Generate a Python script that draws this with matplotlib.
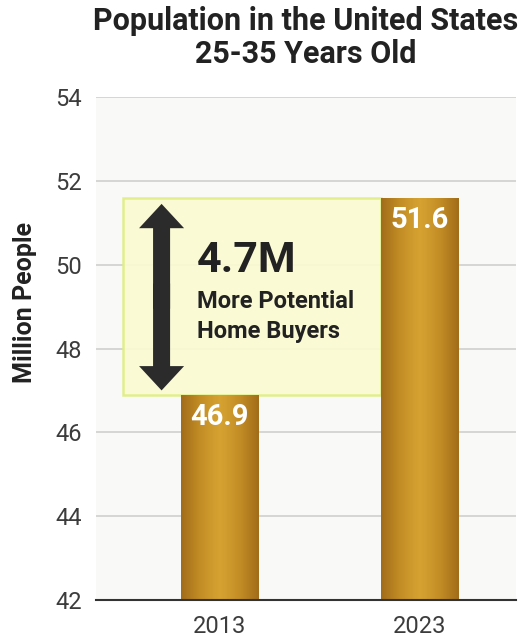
import numpy as np
import matplotlib.pyplot as plt
from matplotlib.colors import LinearSegmentedColormap
from matplotlib.patches import Rectangle

plt.rcParams['font.family'] = ['Roboto', 'DejaVu Sans']

years = ["2013", "2023"]
population = [46.9, 51.6]
y_ticks = [42, 44, 46, 48, 50, 52, 54]
diff_label = "4.7M"
diff_text = "More Potential\nHome Buyers"

fig = plt.figure(figsize=(5.32, 6.41), dpi=100)
ax = fig.add_axes([96 / 532, 41 / 641, 420 / 532, 503 / 641])
ax.set_facecolor('#f9f9f7')

x = np.arange(len(years))
bar_w = 0.385
bars = ax.bar(x, population, width=bar_w, color='#b8831f', zorder=3)

# horizontal gold gradient inside each bar
gold = LinearSegmentedColormap.from_list('gold', ['#a26d19', '#c48e26', '#d6a332', '#c48e26', '#a26d19'])
grad = np.linspace(0, 1, 100).reshape(1, -1)
for b in bars:
    im = ax.imshow(grad, cmap=gold, aspect='auto', zorder=3.5,
                   extent=[b.get_x(), b.get_x() + b.get_width(), 42, b.get_height()])
    im.set_clip_path(b)

for xi, v in zip(x, population):
    ax.text(xi, v - 0.2, f"{v}", ha='center', va='top', color='white',
            fontsize=21, fontweight='bold', zorder=5)

# highlight box between the two values
box_left = -0.4825
box_right = x[1] - bar_w / 2
ax.add_patch(Rectangle((box_left, population[0]), box_right - box_left,
                       population[1] - population[0], facecolor='#fbfbd2',
                       edgecolor='#e0ee84', lw=1.8, alpha=0.92, zorder=2.5))

# double-headed arrow (two halves overlapping in the middle)
ax_x = -0.29
mid = (population[0] + population[1]) / 2
top = population[1] - 0.15
bottom = population[0] + 0.1
for start, end in ((mid - 0.3, top), (mid + 0.3, bottom)):
    ax.arrow(ax_x, start, 0, end - start, width=0.085, head_width=0.225,
             head_length=0.58, length_includes_head=True, color='#2b2b2b',
             lw=0, zorder=4)

ax.text(-0.115, 50.1, diff_label, ha='left', va='center', fontsize=31,
        fontweight='bold', color='#222222', zorder=4)
ax.text(-0.115, 48.77, diff_text, ha='left', va='center', fontsize=17,
        fontweight='bold', color='#222222', linespacing=1.4, zorder=4)

ax.set_ylim(42, 54)
ax.set_xlim(-0.6175, 1.48)
ax.set_yticks(y_ticks)
ax.set_xticks(x)
ax.set_xticklabels(years)
ax.tick_params(axis='both', length=0, labelsize=17, labelcolor='#3c3c3c')
ax.tick_params(axis='y', pad=10)
ax.tick_params(axis='x', pad=11)
ax.grid(axis='y', color='#cfcfcf', lw=1.2, zorder=1)
for s in ['top', 'right', 'left']:
    ax.spines[s].set_visible(False)
ax.spines['bottom'].set_color('#333333')
ax.spines['bottom'].set_linewidth(1.5)
ax.spines['bottom'].set_zorder(6)

fig.text(306 / 532, 1 - 6 / 641, "Population in the United States\n25-35 Years Old",
         ha='center', va='top', fontsize=22, fontweight='bold', color='#222222',
         linespacing=1.12)
fig.text(25 / 532, 1 - 303 / 641, "Million People", rotation=90, ha='center',
         va='center', fontsize=18, fontweight='bold', color='#222222')

fig.savefig('out.png', dpi=100)
